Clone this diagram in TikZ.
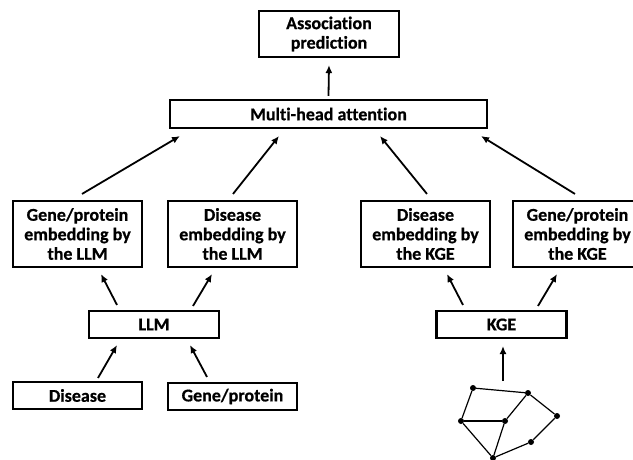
\documentclass[tikz,border=0pt]{standalone}
\usepackage{fontspec}
\setmainfont{Carlito}[Ligatures=NoCommon, BoldFeatures={FakeBold=0.6}]
\usetikzlibrary{arrows.meta}

\begin{document}
\begin{tikzpicture}[x=1pt, y=-1pt,
		box/.style={draw, line width=2.1pt, inner sep=0pt, align=center, font=\fontsize{18}{19.5}\selectfont\bfseries},
		tall/.style={box, minimum width=129pt, minimum height=66pt},
		flat/.style={box, minimum width=129pt, minimum height=27pt},
		arr/.style={-{Latex[length=8pt,width=7pt]}, line width=1.8pt},
		edge/.style={line width=1.2pt},
		dot/.style={circle, fill=black, inner sep=0pt, minimum size=6pt}]
			%%%%% FRAME %%%%%
			\useasboundingbox (0,0) rectangle (633,460);
			
			%%%%% TOP %%%%%
			\node[box, minimum width=140pt, minimum height=46pt] (ap) at (329,34) {Association\\prediction};
			\node[box, minimum width=317pt, minimum height=28pt] (mh) at (328.5,114) {Multi-head attention};
			\draw[arr] ([yshift=3pt]mh.north) -- ([yshift=-7pt]ap.south);
			
			%%%%% EMBEDDINGS %%%%%
			\node[tall] (gl) at (77.5,234) {Gene/protein\\embedding by\\the LLM};
			\node[tall] (dl) at (232.5,234) {Disease\\embedding by\\the LLM};
			\node[tall] (dk) at (425.5,234) {Disease\\embedding by\\the KGE};
			\node[tall] (gk) at (577.5,234) {Gene/protein\\embedding by\\the KGE};
			
			\draw[arr] ([xshift=4.5pt,yshift=6pt]gl.north) -- ([xshift=11pt,yshift=-7pt]mh.south west);
			\draw[arr] ([xshift=0.5pt,yshift=6pt]dl.north) -- ([xshift=-49.5pt,yshift=-7pt]mh.south);
			\draw[arr] ([xshift=1.5pt,yshift=6pt]dk.north) -- ([xshift=51.5pt,yshift=-7pt]mh.south);
			\draw[arr] ([xshift=-2.5pt,yshift=6pt]gk.north) -- ([xshift=-7pt,yshift=-7pt]mh.south east);
			
			%%%%% ENCODERS %%%%%
			\node[flat, minimum width=130pt] (llm) at (154,324.5) {LLM};
			\node[flat, minimum width=130pt] (kge) at (501.5,324.5) {KGE};
			
			\draw[arr] ([xshift=-37pt,yshift=5pt]llm.north) -- ([xshift=23.5pt,yshift=-6pt]gl.south);
			\draw[arr] ([xshift=39pt,yshift=4pt]llm.north) -- ([xshift=-20.5pt,yshift=-6pt]dl.south);
			\draw[arr] ([xshift=-38.5pt,yshift=5pt]kge.north) -- ([xshift=21.5pt,yshift=-6pt]dk.south);
			\draw[arr] ([xshift=36.5pt,yshift=4pt]kge.north) -- ([xshift=-20.5pt,yshift=-6pt]gk.south);
			
			%%%%% INPUTS %%%%%
			\node[flat] (dis) at (77.5,395.5) {Disease};
			\node[flat] (gen) at (232.5,396.5) {Gene/protein};
			
			\draw[arr] ([xshift=20.5pt,yshift=3pt]dis.north) -- ([xshift=-37pt,yshift=-6pt]llm.south);
			\draw[arr] ([xshift=-25.5pt,yshift=5pt]gen.north) -- ([xshift=36pt,yshift=-6pt]llm.south);
			
			%%%%% GRAPH %%%%%
			\node[dot] (ga) at (473,388) {};
			\node[dot] (gb) at (528,393) {};
			\node[dot] (gc) at (461,421) {};
			\node[dot] (gd) at (505,421) {};
			\node[dot] (ge) at (557,416) {};
			\node[dot] (gf) at (531,442) {};
			\node[dot] (gg) at (493,458) {};
			
			\draw[edge] (ga) -- (gb) -- (ge) -- (gf) -- (gg) -- (gc) -- (ga);
			\draw[edge] (gb) -- (gd) -- (gg);
			\draw[edge] (gc) -- (gd);
			
			\coordinate (gtop) at (503,381);
			\draw[arr] (gtop) -- ([xshift=1.5pt,yshift=-7pt]kge.south);
			
			%%%%% END %%%%%
\end{tikzpicture}
\end{document}
